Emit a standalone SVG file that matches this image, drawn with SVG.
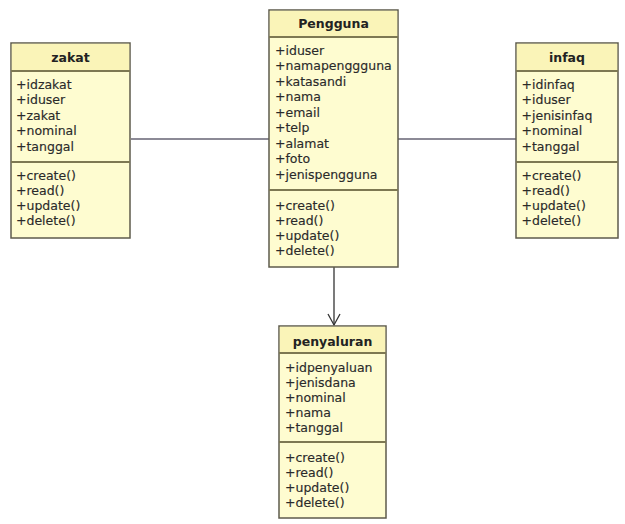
<svg xmlns="http://www.w3.org/2000/svg" width="625" height="524" viewBox="0 0 625 524">
  <style>
    .box { fill: #fefcd0; stroke: #5e5b4c; stroke-width: 1.5; }
    .head { fill: #faf4b8; stroke: none; }
    .sep { stroke: #7d7852; stroke-width: 2; }
    .t { font-family: "DejaVu Sans", "Liberation Sans", sans-serif; font-size: 12.5px; fill: #2a2a2a; stroke: #2a2a2a; stroke-width: 0.15; }
    .title { font-family: "DejaVu Sans", "Liberation Sans", sans-serif; font-size: 12.5px; font-weight: bold; fill: #222; text-anchor: middle; }
    .link { stroke: #8c8a96; stroke-width: 2; fill: none; }
    .dep { stroke: #333; stroke-width: 1.3; fill: none; }
  </style>
  <defs>
    <marker id="open" markerWidth="14" markerHeight="14" refX="12" refY="7" orient="auto" markerUnits="userSpaceOnUse">
      <path d="M1,1 L12,7 L1,13" fill="none" stroke="#333" stroke-width="1.3"/>
    </marker>
  </defs>
  <rect width="625" height="524" fill="#ffffff"/>

  <g id="connectors">
    <line class="link" x1="131" y1="139" x2="269" y2="139"/>
    <line class="link" x1="398" y1="139" x2="516" y2="139"/>
    <line class="dep" x1="334" y1="267" x2="334" y2="325" marker-end="url(#open)"/>
  </g>

  <g id="zakat">
    <rect class="box" x="11" y="43" width="119" height="195"/>
    <rect class="head" x="11.8" y="43.8" width="117.4" height="26.5"/>
    <line class="sep" x1="11" y1="71" x2="130" y2="71"/>
    <line class="sep" x1="11" y1="162" x2="130" y2="162"/>
    <text class="title" x="70.5" y="62">zakat</text>
    <text class="t" x="16" y="88.5">+idzakat</text>
    <text class="t" x="16" y="104">+iduser</text>
    <text class="t" x="16" y="119.5">+zakat</text>
    <text class="t" x="16" y="135">+nominal</text>
    <text class="t" x="16" y="150.5">+tanggal</text>
    <text class="t" x="16" y="179.5">+create()</text>
    <text class="t" x="16" y="194.5">+read()</text>
    <text class="t" x="16" y="209.5">+update()</text>
    <text class="t" x="16" y="224.5">+delete()</text>
  </g>

  <g id="pengguna">
    <rect class="box" x="269" y="10" width="129" height="257"/>
    <rect class="head" x="269.8" y="10.8" width="127.4" height="25.5"/>
    <line class="sep" x1="269" y1="37" x2="398" y2="37"/>
    <line class="sep" x1="269" y1="190" x2="398" y2="190"/>
    <text class="title" x="333.5" y="28">Pengguna</text>
    <text class="t" x="275" y="54.5">+iduser</text>
    <text class="t" x="275" y="70">+namapenggguna</text>
    <text class="t" x="275" y="85.5">+katasandi</text>
    <text class="t" x="275" y="101">+nama</text>
    <text class="t" x="275" y="116.5">+email</text>
    <text class="t" x="275" y="132">+telp</text>
    <text class="t" x="275" y="147.5">+alamat</text>
    <text class="t" x="275" y="163">+foto</text>
    <text class="t" x="275" y="178.5">+jenispengguna</text>
    <text class="t" x="275" y="209.5">+create()</text>
    <text class="t" x="275" y="224.5">+read()</text>
    <text class="t" x="275" y="239.5">+update()</text>
    <text class="t" x="275" y="254.5">+delete()</text>
  </g>

  <g id="infaq">
    <rect class="box" x="516" y="43" width="102" height="195"/>
    <rect class="head" x="516.8" y="43.8" width="100.4" height="26.5"/>
    <line class="sep" x1="516" y1="71" x2="618" y2="71"/>
    <line class="sep" x1="516" y1="162" x2="618" y2="162"/>
    <text class="title" x="567" y="62">infaq</text>
    <text class="t" x="521.5" y="88.5">+idinfaq</text>
    <text class="t" x="521.5" y="104">+iduser</text>
    <text class="t" x="521.5" y="119.5">+jenisinfaq</text>
    <text class="t" x="521.5" y="135">+nominal</text>
    <text class="t" x="521.5" y="150.5">+tanggal</text>
    <text class="t" x="521.5" y="179.5">+create()</text>
    <text class="t" x="521.5" y="194.5">+read()</text>
    <text class="t" x="521.5" y="209.5">+update()</text>
    <text class="t" x="521.5" y="224.5">+delete()</text>
  </g>

  <g id="penyaluran">
    <rect class="box" x="279" y="326" width="107" height="192"/>
    <rect class="head" x="279.8" y="326.8" width="105.4" height="25.5"/>
    <line class="sep" x1="279" y1="353" x2="386" y2="353"/>
    <line class="sep" x1="279" y1="442" x2="386" y2="442"/>
    <text class="title" x="332.5" y="345.5">penyaluran</text>
    <text class="t" x="285" y="371.5">+idpenyaluan</text>
    <text class="t" x="285" y="386.5">+jenisdana</text>
    <text class="t" x="285" y="401.5">+nominal</text>
    <text class="t" x="285" y="416.5">+nama</text>
    <text class="t" x="285" y="431.5">+tanggal</text>
    <text class="t" x="285" y="461.5">+create()</text>
    <text class="t" x="285" y="476.5">+read()</text>
    <text class="t" x="285" y="491.5">+update()</text>
    <text class="t" x="285" y="506.5">+delete()</text>
  </g>
</svg>
